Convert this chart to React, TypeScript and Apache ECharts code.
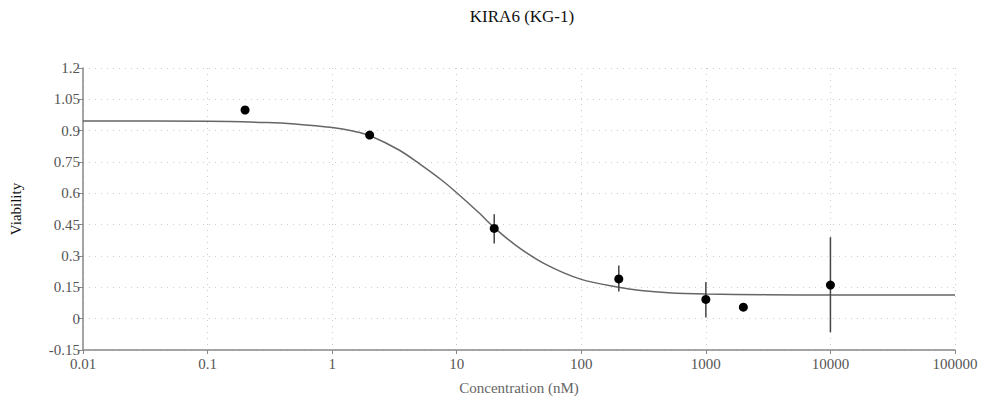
import React, { useEffect, useRef } from "react";
import * as echarts from "echarts";

const titleText = "KIRA6 (KG-1)";
const xTickLabels = ["0.01", "0.1", "1", "10", "100", "1000", "10000", "100000"];

// measured points
const pointConc = [0.2, 2, 20, 200, 1000, 2000, 10000];
const pointViability = [0.999, 0.879, 0.432, 0.19, 0.092, 0.055, 0.161];
const errLow = [null, 0.87, 0.36, 0.13, 0.005, null, -0.065];
const errHigh = [null, 0.89, 0.5, 0.255, 0.175, null, 0.39];

// fitted curve
const curveConc = [0.01, 0.1, 0.3, 0.5, 1, 1.5, 2, 3.5, 5, 7.5, 10, 15, 20, 30, 50, 100, 200, 300, 500, 1000, 3000, 10000, 100000];
const curveViability = [0.946, 0.945, 0.939, 0.932, 0.915, 0.897, 0.877, 0.805, 0.742, 0.665, 0.603, 0.508, 0.436, 0.35, 0.265, 0.188, 0.15, 0.135, 0.124, 0.118, 0.115, 0.113, 0.113];

const serif = "'Liberation Serif', 'DejaVu Serif', serif";

export default function App() {
  const ref = useRef<HTMLDivElement>(null);
  useEffect(() => {
    if (!ref.current) return;
    const chart = echarts.init(ref.current, undefined, { renderer: "svg" });
    const curve = curveConc.map((c, i) => [c, curveViability[i]]);
    const pts = pointConc.map((c, i) => [c, pointViability[i]]);
    const errs = pointConc
      .map((c, i) => [c, errLow[i], errHigh[i]])
      .filter((d) => d[1] !== null && d[2] !== null);
    chart.setOption({
      animation: false,
      title: {
        text: titleText,
        left: 517,
        top: 3,
        textAlign: "center",
        textStyle: { fontFamily: serif, fontSize: 17, fontWeight: "normal", color: "#111" },
      },
      grid: { left: 80, right: 27, top: 68, bottom: 52 },
      xAxis: {
        type: "log",
        logBase: 10,
        min: 0.01,
        max: 100000,
        name: "Concentration (nM)",
        nameLocation: "middle",
        nameGap: 30,
        nameTextStyle: { fontFamily: serif, fontSize: 15, color: "#666" },
        axisLine: { show: true, onZero: false, lineStyle: { color: "#888", width: 1.5 } },
        axisTick: { show: true, length: 4, lineStyle: { color: "#888" } },
        axisLabel: {
          fontFamily: serif,
          fontSize: 15,
          color: "#555",
          margin: 6,
          formatter: (v: number) => {
            const idx = Math.round(Math.log10(v)) + 2;
            return xTickLabels[idx] ?? "";
          },
        },
        splitLine: { show: true, lineStyle: { color: "#ccc", type: [1, 5], width: 1 } },
      },
      yAxis: {
        type: "value",
        min: -0.15,
        max: 1.2,
        interval: 0.15,
        name: "Viability",
        nameLocation: "middle",
        nameGap: 60,
        nameTextStyle: { fontFamily: serif, fontSize: 15, color: "#111" },
        axisLine: { show: true, lineStyle: { color: "#888", width: 1.5 } },
        axisTick: { show: true, length: 5, lineStyle: { color: "#888" } },
        axisLabel: {
          fontFamily: serif,
          fontSize: 15,
          color: "#555",
          margin: 3,
          formatter: (v: number) => String(Number(v.toFixed(2))),
        },
        splitLine: { show: true, lineStyle: { color: "#ccc", type: [1, 5], width: 1 } },
      },
      series: [
        {
          type: "line",
          data: curve,
          smooth: 0.3,
          showSymbol: false,
          symbol: "none",
          lineStyle: { color: "#666", width: 1.5 },
          z: 2,
        },
        {
          type: "custom",
          data: errs,
          renderItem: (params: any, api: any) => {
            const top = api.coord([api.value(0), api.value(2)]);
            const bot = api.coord([api.value(0), api.value(1)]);
            return {
              type: "line",
              shape: { x1: top[0], y1: top[1], x2: bot[0], y2: bot[1] },
              style: { stroke: "#444", lineWidth: 1.5 },
            };
          },
          z: 3,
        },
        {
          type: "scatter",
          data: pts,
          symbol: "circle",
          symbolSize: 9,
          itemStyle: { color: "#000", opacity: 1 },
          z: 4,
        },
      ],
    });
    return () => chart.dispose();
  }, []);
  return (
    <div
      ref={ref}
      style={{ position: "fixed", left: 0, top: 0, width: 982, height: 402, background: "#fff" }}
    />
  );
}
